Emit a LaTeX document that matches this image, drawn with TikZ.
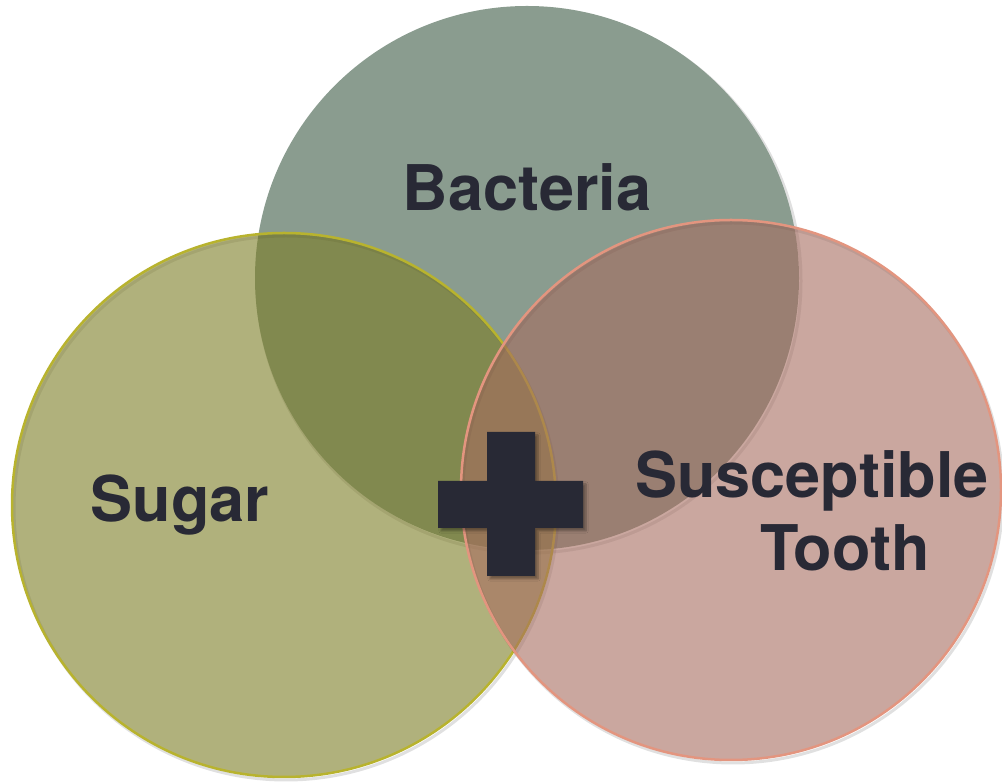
\documentclass[tikz,border=0pt]{standalone}
\usepackage{fontspec}
\setmainfont{TeX Gyre Heros}
\usetikzlibrary{shadows.blur}
\definecolor{bactfill}{RGB}{138,156,143}
\definecolor{sugarfill}{RGB}{124,125,37}
\definecolor{sugarline}{RGB}{184,179,46}
\definecolor{toothfill}{RGB}{166,108,95}
\definecolor{toothline}{RGB}{227,149,127}
\definecolor{ink}{RGB}{40,41,53}
\tikzset{
  shadowring/.style={draw=black, line width=3pt, opacity=0.12},
  label/.style={font=\bfseries\fontsize{63}{73}\selectfont, text=ink, align=center, inner sep=0pt},
}
\begin{document}
\begin{tikzpicture}[x=1pt,y=1pt]
\useasboundingbox (0,0) rectangle (1002,782);
% Bacteria
\draw[shadowring] (529,501) circle (272);
\fill[bactfill] (527,504) circle (272);
% Sugar
\draw[shadowring] (286,274) circle (272);
\draw[fill=sugarfill, fill opacity=0.6, draw=sugarline, line width=2.5pt] (284,277) circle (272);
% Tooth
\draw[shadowring] (733,289) circle (270);
\draw[fill=toothfill, fill opacity=0.6, draw=toothline, line width=2.5pt] (731,292) circle (270);
% Labels
\node[label] (bacteria) at (527,595) {Bacteria};
\node[label] (sugar) at (180,277) {Sugar};
\node[label] (tooth) at (812,271) {Susceptible\\\hspace*{66pt}Tooth};
% Plus sign
\fill[ink, blur shadow={shadow xshift=3pt, shadow yshift=-3pt, shadow blur steps=6, shadow opacity=35}]
  (487,350) -- (535,350) -- (535,301) -- (583,301) -- (583,254) -- (535,254)
  -- (535,206) -- (487,206) -- (487,254) -- (438,254) -- (438,301) -- (487,301) -- cycle;
\end{tikzpicture}
\end{document}
